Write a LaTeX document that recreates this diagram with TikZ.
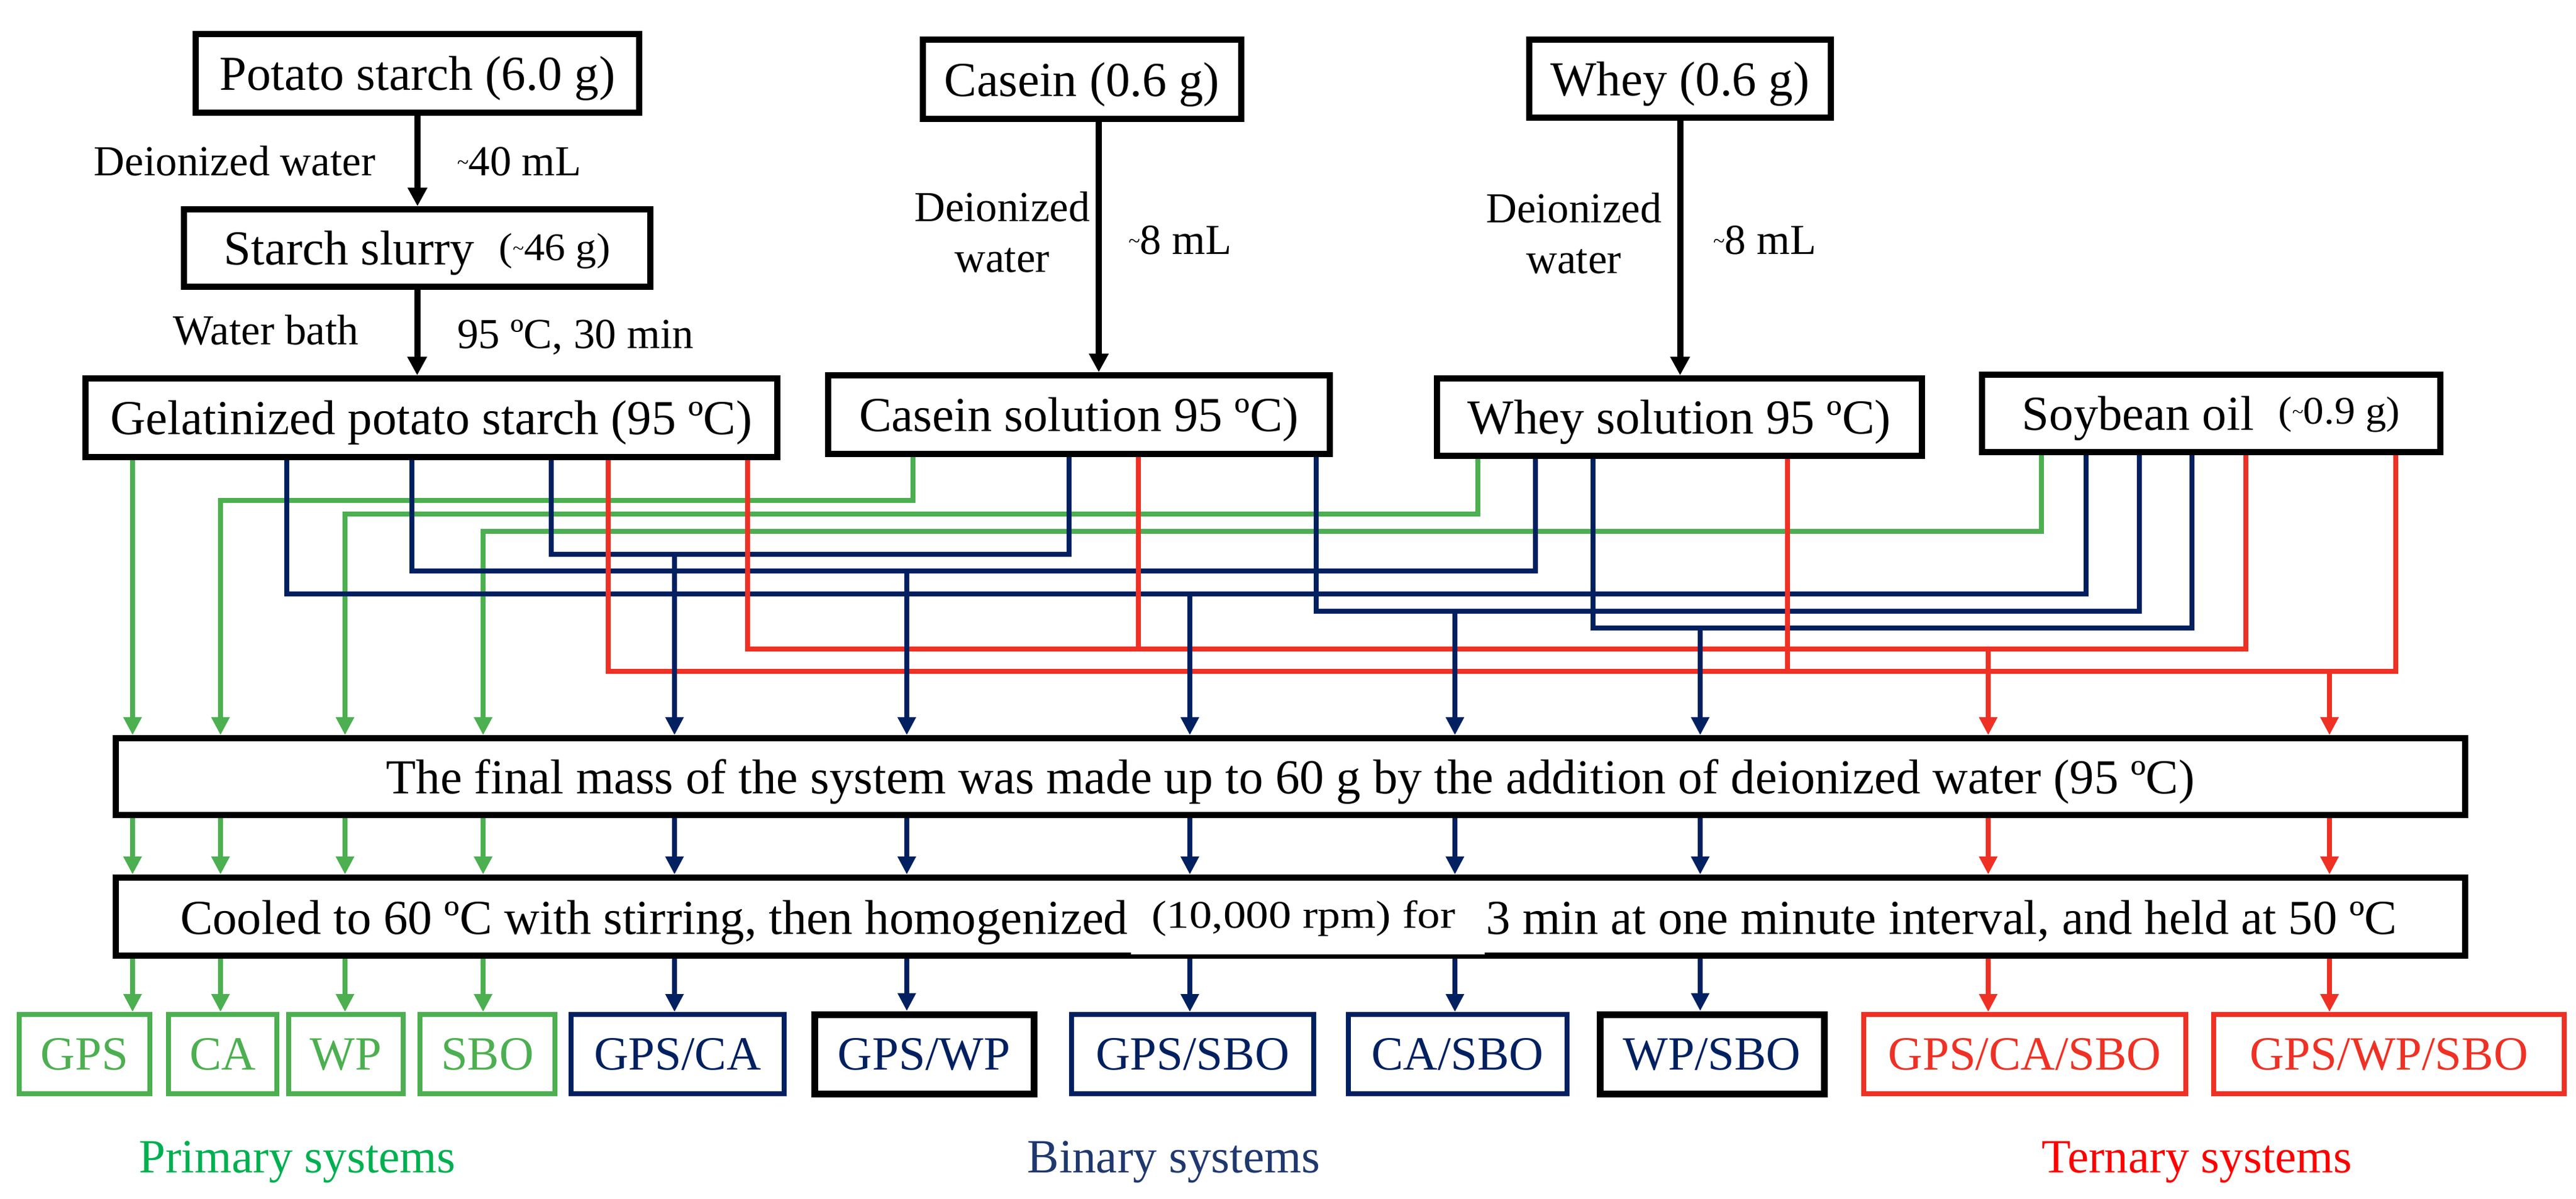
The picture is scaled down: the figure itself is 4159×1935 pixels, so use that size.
\documentclass[tikz,border=0pt]{standalone}
\usepackage{fontspec}
\setmainfont{Liberation Serif}
\usepackage{graphicx}
\usetikzlibrary{arrows.meta}
\definecolor{gr}{RGB}{76,175,80}
\definecolor{nv}{RGB}{0,32,96}
\definecolor{rd}{RGB}{238,49,36}
\definecolor{grT}{RGB}{0,176,80}
\definecolor{nvT}{RGB}{31,56,110}
\definecolor{rdT}{RGB}{255,0,0}
\newcommand\smtilde{\raisebox{0.3ex}{\scalebox{0.5}{\textasciitilde}}}
\newcommand\mainsz{\fontsize{15.76pt}{18pt}\selectfont}
\newcommand\labsz{\fontsize{13.8pt}{16.4pt}\selectfont}
\newcommand\outsz{\fontsize{15.4pt}{18pt}\selectfont}
\begin{document}
\begin{tikzpicture}[x=0.2pt,y=-0.2pt,
  box/.style={draw=black,line width=2pt,inner sep=0pt,text height=11pt,text depth=0.2pt,font=\mainsz},
  obox/.style={line width=1.6pt,inner sep=0pt,minimum height=25.6pt,text height=10.2pt,text depth=0.2pt,font=\outsz},
  bobox/.style={obox,draw=black,line width=2.2pt,text=nv},
  lab/.style={inner sep=0pt,font=\labsz},
  txt/.style={inner sep=0pt,font=\mainsz},
  con/.style={line width=1.6pt},
  tip/.style={-{Triangle[length=5.8pt,width=5.6pt]}},
  blk/.style={line width=2pt,-{Triangle[length=6pt,width=6pt]}},
]
\useasboundingbox (0,0) rectangle (4159,1935);

% top boxes
\node[box,minimum width=143.2pt,minimum height=25.4pt] (pot) at (674,118.5) {Potato starch (6.0 g)};
\node[box,minimum width=150.6pt,minimum height=25pt] (slurry) at (673.5,400.5) {Starch slurry\ \ \raisebox{1.5pt}{\scalebox{0.85}[0.8]{(\smtilde46 g)}}\hspace{6pt}};
\node[box,minimum width=223.4pt,minimum height=25.4pt] (gel) at (696.5,674.5) {Gelatinized potato starch (95 ºC)\hspace{3.6pt}};
\node[box,minimum width=102.8pt,minimum height=25.6pt] (cas) at (1747,128) {Casein (0.6 g)};
\node[box,minimum width=162pt,minimum height=25.4pt] (cassol) at (1742,669.5) {Casein solution 95 ºC)\hspace{8.4pt}};
\node[box,minimum width=97.4pt,minimum height=25.2pt] (whey) at (2712.5,127) {Whey (0.6 g)};
\node[box,minimum width=156.6pt,minimum height=25pt] (wheysol) at (2711.5,673.5) {Whey solution 95 ºC)\hspace{7pt}};
\node[box,minimum width=148pt,minimum height=25pt] (soy) at (3570,667.5) {Soybean oil\ \ \raisebox{2pt}{\scalebox{0.85}[0.8]{(\smtilde0.9 g)}}\hspace{8pt}};

% process boxes
\node[box,minimum width=758.6pt,minimum height=24.8pt] (fin) at (2083.5,1254) {The final mass of the system was made up to 60 g by the addition of deionized water (95 ºC)};
\node[box,minimum width=758.6pt,minimum height=25.2pt] (cool) at (2083.5,1480) {};
\node[txt,anchor=base west] (coolA) at (290,1508.6) {Cooled to 60 ºC with stirring, then homogenized};
\fill[white] (1826,1440) rectangle (2397,1541);
\node[txt,anchor=base west] (coolB) at (1858,1498) {\scalebox{0.93}[0.8]{(10,000 rpm) for}};
\node[txt,anchor=base east] (coolC) at (3871,1508.6) {3 min at one minute interval, and held at 50 ºC};

% output boxes
\node[obox,draw=gr,text=gr,minimum width=42.2pt] (o1) at (136.5,1702) {GPS};
\node[obox,draw=gr,text=gr,minimum width=35pt] (o2) at (359.5,1702) {CA};
\node[obox,draw=gr,text=gr,minimum width=37pt] (o3) at (558.5,1702) {WP};
\node[obox,draw=gr,text=gr,minimum width=43.6pt] (o4) at (787,1702) {SBO};
\node[obox,draw=nv,text=nv,minimum width=68.8pt] (o5) at (1094,1702) {GPS/CA};
\node[bobox,minimum width=70.8pt] (o6) at (1492,1702) {GPS/WP};
\node[obox,draw=nv,text=nv,minimum width=78.2pt] (o7) at (1925.5,1702) {GPS/SBO};
\node[obox,draw=nv,text=nv,minimum width=70.6pt] (o8) at (2353.5,1702) {CA/SBO};
\node[bobox,minimum width=72.4pt] (o9) at (2764,1702) {WP/SBO};
\node[obox,draw=rd,text=rd,minimum width=104pt] (o10) at (3269,1702) {GPS/CA/SBO};
\node[obox,draw=rd,text=rd,minimum width=113.2pt] (o11) at (3857,1702) {GPS/WP/SBO\hspace{10pt}};

% group labels
\node[inner sep=0pt,font=\outsz,text=grT,anchor=base] (lp) at (480,1893) {Primary systems};
\node[inner sep=0pt,font=\outsz,text=nvT,anchor=base] (lb) at (1895,1893) {Binary systems};
\node[inner sep=0pt,font=\outsz,text=rdT,anchor=base] (lt) at (3547,1893) {Ternary systems};

% side labels
\node[lab,anchor=base east] (l1) at (607,283) {Deionized water};
\node[lab,anchor=base west] (l2) at (737,283) {\smtilde40 mL};
\node[lab,anchor=base east] (l3) at (580,556) {Water bath};
\node[lab,anchor=base west] (l4) at (737,562) {95 ºC, 30 min};
\node[lab,align=center] (l5) at (1618,374.5) {Deionized\\water};
\node[lab,anchor=base west] (l6) at (1821,410) {\smtilde8 mL};
\node[lab,align=center] (l7) at (2541,377) {Deionized\\water};
\node[lab,anchor=base west] (l8) at (2765,410) {\smtilde8 mL};

% black arrows
\draw[blk] (pot.south) -- (pot.south |- slurry.north);
\draw[blk] (slurry.south) -- (slurry.south |- gel.north);
\draw[blk] (1774,0 |- cas.south) -- (1774,0 |- cassol.north);
\draw[blk] (whey.south) -- (whey.south |- wheysol.north);

% junction coordinates
\coordinate (j5) at (1089,895);
\coordinate (j6) at (1464,922);
\coordinate (j7) at (1921,959);
\coordinate (j8) at (2349,987);
\coordinate (j9) at (2745,1014);
\coordinate (j10) at (3210,1048);
\coordinate (j11) at (3761,1084);

% green connectors
\draw[con,gr,tip] (214,0 |- gel.south) -- (214,0 |- fin.north);
\draw[con,gr,tip] (1474,0 |- cassol.south) |- (356,808) -- (356,0 |- fin.north);
\draw[con,gr,tip] (2386,0 |- wheysol.south) |- (557,830) -- (557,0 |- fin.north);
\draw[con,gr,tip] (3296,0 |- soy.south) |- (780,858) -- (780,0 |- fin.north);

% navy connectors
\draw[con,nv] (890,0 |- gel.south) |- (j5) -| (1726,0 |- cassol.south);
\draw[con,nv] (665,0 |- gel.south) |- (j6) -| (2479,0 |- wheysol.south);
\draw[con,nv] (463,0 |- gel.south) |- (j7) -| (3368,0 |- soy.south);
\draw[con,nv] (2125,0 |- cassol.south) |- (j8) -| (3454,0 |- soy.south);
\draw[con,nv] (2572,0 |- wheysol.south) |- (j9) -| (3539,0 |- soy.south);

% red connectors
\draw[con,rd] (1207,0 |- gel.south) |- (j10) -| (3626,0 |- soy.south);
\draw[con,rd] (1838,0 |- cassol.south) -- (1838,1048);
\draw[con,rd] (982,0 |- gel.south) |- (j11) -| (3868,0 |- soy.south);
\draw[con,rd] (2886,0 |- wheysol.south) -- (2886,1084);

% drops to final box
\foreach \j/\c in {j5/nv,j6/nv,j7/nv,j8/nv,j9/nv,j10/rd,j11/rd}
  \draw[con,\c,tip] (\j) -- (\j |- fin.north);

% fin -> cool -> outputs
\foreach \x/\c/\t in {214/gr/o1,356/gr/o2,557/gr/o3,780/gr/o4,1089/nv/o5,1464/nv/o6,1921/nv/o7,2349/nv/o8,2745/nv/o9,3210/rd/o10,3761/rd/o11}{
  \draw[con,\c,tip] (\x,0 |- fin.south) -- (\x,0 |- cool.north);
  \draw[con,\c,tip] (\x,0 |- cool.south) -- (\x,0 |- \t.north);
}
\end{tikzpicture}
\end{document}
